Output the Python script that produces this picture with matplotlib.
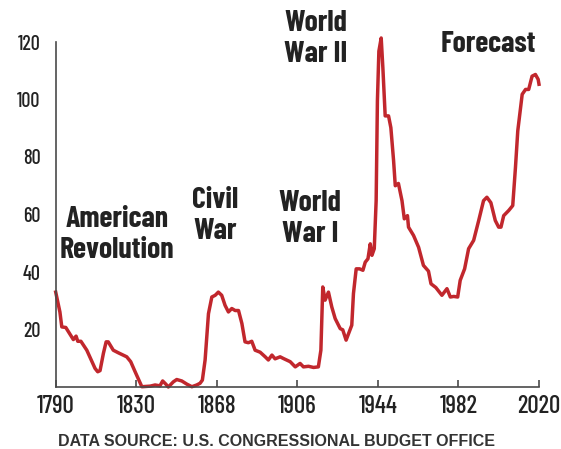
import numpy as np
import matplotlib
matplotlib.use('Agg')
import matplotlib.pyplot as plt

# federal debt held by the public, % of GDP
years = [1790, 1792.0, 1792.9, 1794.8, 1796.8, 1798.4, 1799.7, 1800.5, 1802, 1804.8,
         1808.7, 1810, 1811.1, 1812.7, 1814, 1815, 1817.4, 1819.8, 1823.8, 1825.7,
         1827.8, 1831, 1835, 1837.3, 1839.6, 1840.9, 1842.4, 1843.6, 1846, 1847.6,
         1850, 1852.4, 1854.8, 1857.1, 1858.7, 1859.8, 1861.1, 1862.7, 1864.3, 1865.9,
         1867.4, 1869, 1870.6, 1872.2, 1873.8, 1875.4, 1877, 1878.6, 1880.1, 1881.7,
         1883.3, 1884.9, 1887.3, 1889.7, 1891.2, 1892.9, 1894.4, 1896.8, 1898.4, 1901.6,
         1904, 1906.3, 1907.9, 1910.3, 1912.7, 1915, 1916.2, 1917.1, 1918.2, 1919.8,
         1921.4, 1923, 1925.4, 1926.6, 1928.2, 1930.9, 1931.7, 1933, 1934.6, 1936.2,
         1937.3, 1938.6, 1939.7, 1940.5, 1941.6, 1942.5, 1943.1, 1943.8, 1944.9, 1945.7,
         1946.8, 1948.4, 1949.5, 1950.8, 1951.6, 1953.1, 1954.8, 1955.9, 1957.4, 1957.9,
         1960.3, 1962.7, 1965, 1967.4, 1968.6, 1970.9, 1973.8, 1976.2, 1977.8, 1979.4,
         1981.3, 1982.5, 1984.6, 1986.5, 1988.9, 1991.3, 1993.6, 1995.2, 1997.1, 1999.2,
         2000.8, 2001.9, 2003.2, 2005.6, 2007.5, 2008.8, 2009.9, 2012, 2013.6, 2015.1,
         2016.7, 2018.3, 2019.6, 2020]
debt = [33.0, 26.1, 20.9, 20.7, 18.4, 16.5, 17.7, 15.9, 15.9, 12.8,
        6.5, 5.3, 5.7, 11.7, 15.7, 15.7, 12.8, 11.9, 10.5, 8.8,
        5.3, 0.1, 0.3, 0.7, 0.4, 2.1, 1.0, 0.0, 1.8, 2.6,
        2.1, 1.0, 0.1, 0.7, 1.3, 2.4, 9.4, 25.5, 31.3, 31.9,
        33.0, 31.9, 28.4, 26.1, 27.3, 26.6, 26.6, 22.1, 15.7, 15.4,
        15.9, 12.8, 12.1, 10.5, 9.4, 11.1, 9.8, 10.5, 9.9, 8.8,
        7.0, 8.2, 7.0, 7.2, 6.8, 7.0, 12.8, 34.8, 30.2, 33.0,
        27.8, 23.8, 20.3, 19.9, 16.3, 21.5, 32.5, 41.1, 41.1, 40.6,
        43.4, 44.6, 49.8, 45.8, 48.1, 64.8, 99.5, 116.8, 121.4, 111.0,
        94.3, 94.3, 90.2, 78.7, 70.0, 70.8, 64.8, 58.5, 59.6, 55.6,
        52.7, 48.6, 42.3, 40.3, 35.9, 34.6, 31.9, 34.2, 31.3, 31.5,
        31.3, 37.1, 41.1, 48.1, 51.0, 57.9, 64.8, 66.0, 64.1, 57.9,
        55.6, 55.6, 59.6, 61.4, 63.1, 76.4, 89.1, 101.8, 103.5, 103.5,
        108.1, 108.7, 107.0, 105.3]

tick_labels = ["1790", "1830", "1868", "1906", "1944", "1982", "2020"]
y_ticks = [20, 40, 60, 80, 100, 120]

labels = ["American\nRevolution", "Civil\nWar", "World\nWar I", "World\nWar II", "Forecast"]
label_pos = [(117, 235), (215, 216), (310, 219), (316, 39), (488, 44)]  # pixels

FONT = ['Barlow Condensed', 'DejaVu Sans']
plt.rcParams['font.family'] = FONT

W, H = 561, 449
fig = plt.figure(figsize=(W / 100, H / 100), dpi=100)
ax = fig.add_axes([55.7 / W, 1 - 387 / H, (539 - 55.7) / W, (387 - 42) / H])

ax.plot(years, debt, color="#c1272d", linewidth=2.5, solid_joinstyle="round", clip_on=False)

ax.set_xlim(1790, 2020)
ax.set_ylim(0, 120)
ax.set_xticks(np.linspace(1790, 2020, len(tick_labels)))
ax.set_xticklabels(tick_labels)
ax.set_yticks(y_ticks)

for s in ["top", "right"]:
    ax.spines[s].set_visible(False)
for s in ["left", "bottom"]:
    ax.spines[s].set_color("#4a4a4a")
    ax.spines[s].set_linewidth(1.2)

ax.tick_params(axis="x", direction="in", length=5, width=1.2, color="#4a4a4a",
               pad=6, labelsize=18, labelcolor="#222222")
ax.tick_params(axis="y", length=0, pad=11, labelsize=14.5, labelcolor="#222222")
for lab in ax.get_xticklabels() + ax.get_yticklabels():
    lab.set_fontweight("medium")

for txt, (px, py) in zip(labels, label_pos):
    fig.text(px / W, 1 - py / H, txt, ha="center", va="center", fontsize=21.5,
             fontweight="bold", color="#222222", linespacing=1.15)

fig.text(276 / W, 1 - 441 / H, "DATA SOURCE: U.S. CONGRESSIONAL BUDGET OFFICE",
         ha="center", va="center", fontsize=11.5, fontweight="bold", color="#333333",
         family=['Liberation Sans', 'DejaVu Sans'])

fig.savefig("out.png", dpi=100, facecolor="white")
